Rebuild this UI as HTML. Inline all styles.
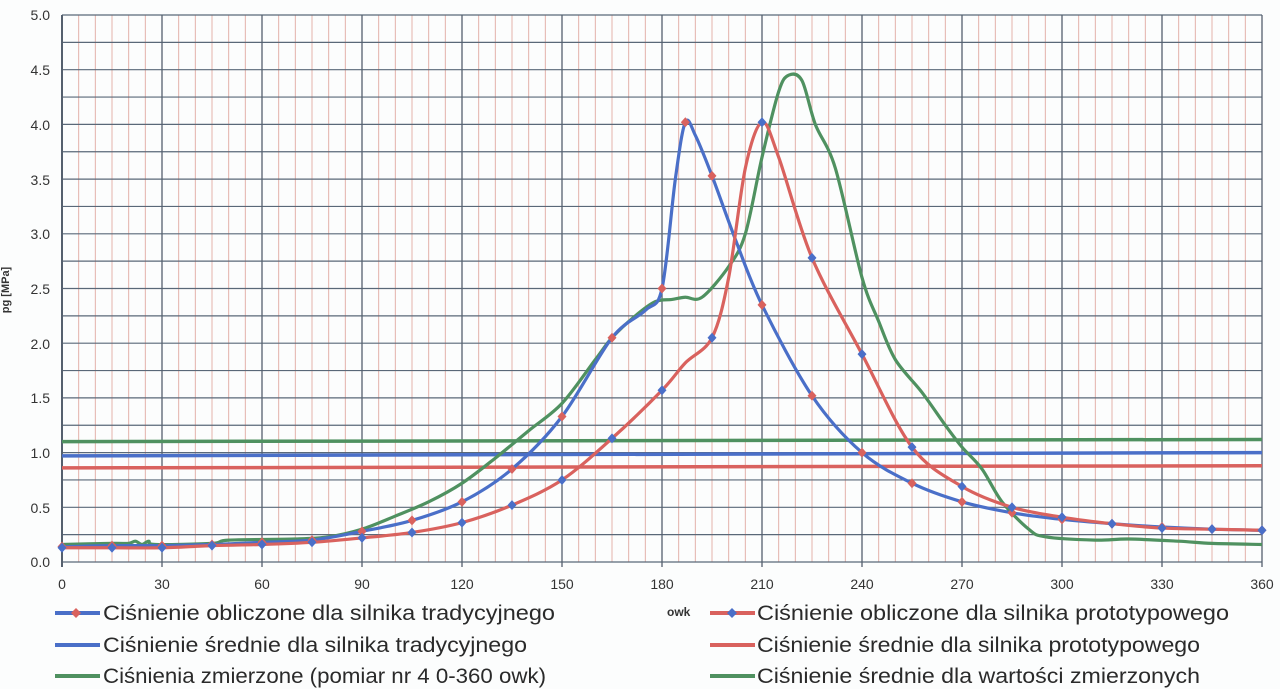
<!DOCTYPE html>
<html><head><meta charset="utf-8"><style>
html,body{margin:0;padding:0;background:#fdfefe;}
svg{display:block;font-family:"Liberation Sans",sans-serif;}
</style></head><body>
<svg id="s" width="1280" height="689" viewBox="0 0 1280 689" xmlns="http://www.w3.org/2000/svg">
<rect width="1280" height="689" fill="#fcfdfd"/>
<g id="grid"></g>
<g font-size="14" fill="#333" text-anchor="end">
<text x="50" y="20">5.0</text><text x="50" y="75">4.5</text><text x="50" y="130">4.0</text><text x="50" y="185">3.5</text><text x="50" y="239">3.0</text><text x="50" y="294">2.5</text><text x="50" y="349">2.0</text><text x="50" y="403">1.5</text><text x="50" y="458">1.0</text><text x="50" y="513">0.5</text><text x="50" y="567">0.0</text>
</g>
<text x="9" y="290" font-size="11" font-weight="bold" fill="#333" transform="rotate(-90 9 290)" text-anchor="middle">pg [MPa]</text>
<g font-size="14" fill="#333" text-anchor="middle">
<text x="62" y="589">0</text><text x="162" y="589">30</text><text x="262" y="589">60</text><text x="362" y="589">90</text><text x="462" y="589">120</text><text x="562" y="589">150</text><text x="662" y="589">180</text><text x="762" y="589">210</text><text x="862" y="589">240</text><text x="962" y="589">270</text><text x="1062" y="589">300</text><text x="1162" y="589">330</text><text x="1262" y="589">360</text>
</g>
<text x="667" y="616" font-size="12" font-weight="bold" fill="#333">owk</text>
<g id="curves"></g>
<g stroke-width="4">
<line x1="55" y1="613" x2="100" y2="613" stroke="#4a6fc8"/><line x1="55" y1="645" x2="100" y2="645" stroke="#4a6fc8"/><line x1="55" y1="676" x2="100" y2="676" stroke="#4f9160"/>
<line x1="710" y1="613" x2="755" y2="613" stroke="#d9625e"/><line x1="710" y1="645" x2="755" y2="645" stroke="#d9625e"/><line x1="710" y1="676" x2="755" y2="676" stroke="#4f9160"/>
</g>
<path d="M76 608 L81 613 L76 618 L71 613Z" fill="#d9625e"/>
<path d="M732 608 L737 613 L732 618 L727 613Z" fill="#4a6fc8"/>
<g font-size="21" fill="#2a2a2a">
<text x="103" y="620" textLength="452" lengthAdjust="spacingAndGlyphs">Ciśnienie obliczone dla silnika tradycyjnego</text>
<text x="103" y="652" textLength="424" lengthAdjust="spacingAndGlyphs">Ciśnienie średnie dla silnika tradycyjnego</text>
<text x="103" y="683" textLength="443" lengthAdjust="spacingAndGlyphs">Ciśnienia zmierzone (pomiar nr 4  0-360 owk)</text>
<text x="757" y="620" textLength="472" lengthAdjust="spacingAndGlyphs">Ciśnienie obliczone dla silnika prototypowego</text>
<text x="757" y="652" textLength="443" lengthAdjust="spacingAndGlyphs">Ciśnienie średnie dla silnika prototypowego</text>
<text x="757" y="683" textLength="443" lengthAdjust="spacingAndGlyphs">Ciśnienie średnie dla wartości zmierzonych</text>
</g>
</svg>
<script>
const NS="http://www.w3.org/2000/svg";
const X=d=>62+d*1200/360, Y=p=>562-p*109.4;
const g=document.getElementById('grid'), c=document.getElementById('curves');
function el(p,tag,a){const e=document.createElementNS(NS,tag);for(const k in a)e.setAttribute(k,a[k]);p.appendChild(e);return e;}
for(let d=0;d<=360;d+=5){if(d%30)el(g,'line',{x1:X(d),y1:15,x2:X(d),y2:562,stroke:'#e3b2aa','stroke-width':1});}
for(let i=0;i<=20;i++){el(g,'line',{x1:62,y1:Y(i*0.25),x2:1262,y2:Y(i*0.25),stroke:'#5a6878','stroke-width':1.2});}
for(let d=0;d<=360;d+=30){el(g,'line',{x1:X(d),y1:15,x2:X(d),y2:567,stroke:'#55606e','stroke-width':d==0?2:1.3});}
function path(pts,col,w){let s='';const P=pts.map(p=>[X(p[0]),Y(p[1])]);
s='M'+P[0][0]+' '+P[0][1];
for(let i=0;i<P.length-1;i++){const p0=P[Math.max(0,i-1)],p1=P[i],p2=P[i+1],p3=P[Math.min(P.length-1,i+2)];const t=0.16;
s+=` C${p1[0]+(p2[0]-p0[0])*t} ${p1[1]+(p2[1]-p0[1])*t} ${p2[0]-(p3[0]-p1[0])*t} ${p2[1]-(p3[1]-p1[1])*t} ${p2[0]} ${p2[1]}`;}
el(c,'path',{d:s,fill:'none',stroke:col,'stroke-width':w,'stroke-linejoin':'round'});}
function marks(pts,col){pts.forEach(p=>{const x=X(p[0]),y=Y(p[1]);el(c,'path',{d:`M${x} ${y-5}L${x+4.5} ${y}L${x} ${y+5}L${x-4.5} ${y}Z`,fill:col});});}
// means
el(c,'line',{x1:62,y1:Y(1.1),x2:1262,y2:Y(1.12),stroke:'#4f9160','stroke-width':3.5});
el(c,'line',{x1:62,y1:Y(0.97),x2:1262,y2:Y(1.0),stroke:'#4a6fc8','stroke-width':3.5});
el(c,'line',{x1:62,y1:Y(0.86),x2:1262,y2:Y(0.88),stroke:'#d9625e','stroke-width':3.5});
const green=[[0,0.16],[15,0.17],[20,0.17],[22,0.19],[24,0.16],[26,0.19],[28,0.16],[45,0.17],[50,0.2],[70,0.21],[80,0.23],[90,0.3],[100,0.42],[110,0.55],[120,0.72],[130,0.95],[140,1.2],[150,1.45],[160,1.85],[165,2.05],[172,2.25],[178,2.38],[183,2.4],[187,2.42],[192,2.42],[200,2.7],[205,3.0],[210,3.7],[215,4.3],[218,4.45],[222,4.4],[226,4.0],[232,3.6],[240,2.6],[245,2.2],[250,1.85],[258,1.55],[265,1.25],[270,1.05],[276,0.85],[282,0.55],[290,0.3],[295,0.23],[310,0.2],[320,0.21],[335,0.19],[345,0.17],[360,0.16]];
const blue=[[0,0.14],[15,0.15],[30,0.15],[45,0.16],[60,0.18],[75,0.2],[90,0.28],[105,0.38],[120,0.55],[135,0.85],[150,1.33],[165,2.05],[175,2.3],[180,2.5],[184,3.5],[187,4.02],[190,3.9],[195,3.53],[202,2.95],[210,2.35],[225,1.52],[240,1.0],[255,0.72],[270,0.55],[285,0.45],[300,0.39],[315,0.35],[330,0.32],[345,0.3],[360,0.29]];
const red=[[0,0.13],[15,0.13],[30,0.13],[45,0.15],[60,0.16],[75,0.18],[90,0.22],[105,0.27],[120,0.36],[135,0.52],[150,0.75],[165,1.13],[180,1.57],[187,1.82],[195,2.05],[200,2.6],[205,3.6],[210,4.02],[215,3.7],[225,2.78],[240,1.9],[255,1.05],[270,0.69],[285,0.5],[300,0.41],[315,0.35],[330,0.31],[345,0.3],[360,0.29]];
path(green,'#4f9160',3.2);
path(blue,'#4a6fc8',3.2);
path(red,'#d9625e',3.2);
marks(blue.filter(p=>p[0]%15==0||p[0]==187),'#d9625e');
marks(red.filter(p=>p[0]%15==0),'#4a6fc8');
</script>
</body></html>
